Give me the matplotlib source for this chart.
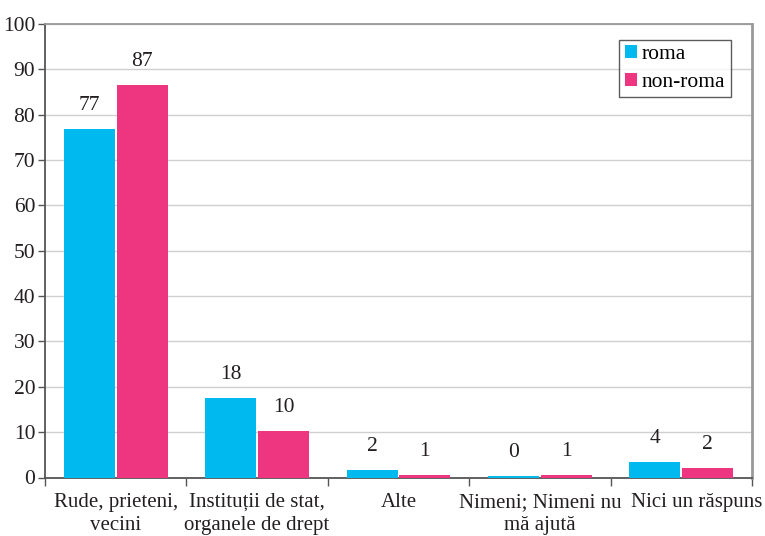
import numpy as np
import matplotlib.pyplot as plt
import matplotlib.transforms as mtransforms

categories = ["Rude, prieteni,\nvecini", "Instituții de stat,\norganele de drept",
              "Alte", "Nimeni; Nimeni nu\nmă ajută", "Nici un răspuns"]
roma = [76.8, 17.5, 1.7, 0.3, 3.4]
non_roma = [86.5, 10.3, 0.6, 0.6, 2.1]
roma_labels = ["77", "18", "2", "0", "4"]
non_roma_labels = ["87", "10", "1", "1", "2"]

c_roma = "#00b9ef"
c_non = "#ee3580"
fs = 15.5

plt.rcParams['font.family'] = ['Liberation Serif', 'DejaVu Serif']

fig = plt.figure(figsize=(7.65, 5.36), dpi=100)
ax = fig.add_axes([45 / 765, 1 - 477.5 / 536, (752 - 45) / 765, (477.5 - 24) / 536])

x = np.arange(len(categories))
w = 0.36
gap = 0.007
b1 = ax.bar(x - w / 2 - gap, roma, w, color=c_roma, label="roma", zorder=3)
b2 = ax.bar(x + w / 2 + gap, non_roma, w, color=c_non, label="non-roma", zorder=3)

for rects, labs in [(b1, roma_labels), (b2, non_roma_labels)]:
    for r, lab in zip(rects, labs):
        ax.annotate(lab, (r.get_x() + r.get_width() / 2, r.get_height()),
                    xytext=(0, 10), textcoords="offset points",
                    ha="center", va="bottom", fontsize=fs, color="#231f20")

ax.set_xlim(-0.5, len(categories) - 0.5)
ax.set_ylim(0, 100)
ax.set_yticks(range(0, 101, 10))
ax.tick_params(axis="y", labelsize=fs, length=5, width=1, color="#555555",
               labelcolor="#231f20", pad=2)
ax.set_xticks(x)
ax.set_xticklabels(categories, fontsize=15, color="#231f20", linespacing=1.28)
ax.tick_params(axis="x", length=0, pad=11)
ax.set_xticks(np.arange(-0.5, len(categories)), minor=True)
ax.tick_params(axis="x", which="minor", length=6, width=1, color="#555555")

# last label sits a bit to the right in the original
last = ax.get_xticklabels()[-1]
last.set_transform(last.get_transform() +
                   mtransforms.ScaledTranslation(15 / 100, 0, fig.dpi_scale_trans))

ax.yaxis.grid(True, color="#d0d0d0", linewidth=1, zorder=0)
ax.set_axisbelow(True)

for s in ["left", "bottom"]:
    ax.spines[s].set_color("#555555")
    ax.spines[s].set_linewidth(1.3)
ax.spines["top"].set_color("#999999")
ax.spines["top"].set_linewidth(1.3)
ax.spines["right"].set_color("#999999")
ax.spines["right"].set_linewidth(2)

leg = ax.legend(loc="upper right", bbox_to_anchor=(0.97, 0.965), fontsize=fs,
                frameon=True, fancybox=False, handlelength=0.55, handleheight=0.55,
                handletextpad=0.25, borderpad=0.25, labelspacing=0.4,
                borderaxespad=0)
leg.get_frame().set_edgecolor("#333333")
leg.get_frame().set_linewidth(1)

fig.savefig("out.png", dpi=100)
